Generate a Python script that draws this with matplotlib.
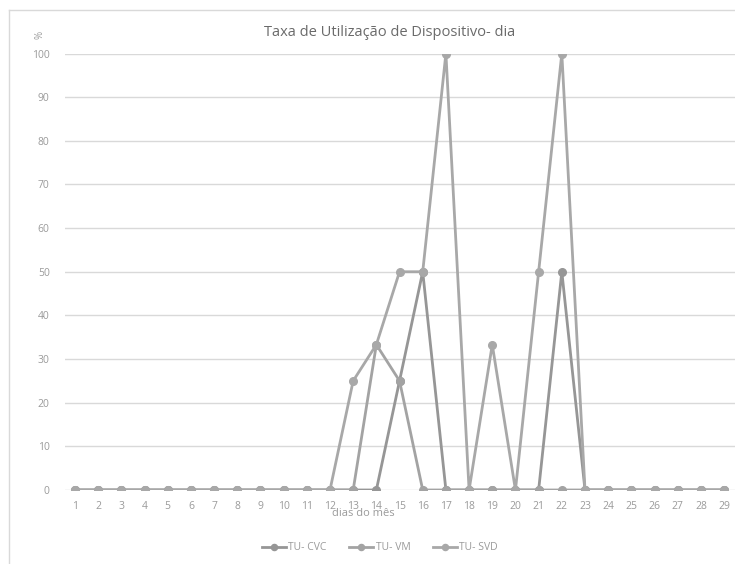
"""Taxa de Utilização de Dispositivo por dia do mês (linhas com marcadores)."""

import matplotlib
matplotlib.use("Agg")
import matplotlib.pyplot as plt
from matplotlib.lines import Line2D

FONT = "Open Sans"
GRID = "#d9d9d9"
TEXT = "#9a9a9a"

days = list(range(1, 30))

tu_cvc = [0, 0, 0, 0, 0, 0, 0, 0, 0, 0, 0, 0, 0, 0, 25, 50, 0, 0, 0, 0,
          0, 50, 0, 0, 0, 0, 0, 0, 0]
tu_vm = [0, 0, 0, 0, 0, 0, 0, 0, 0, 0, 0, 0, 0, 33.3, 25, 0, 0, 0, 0, 0,
         0, 0, 0, 0, 0, 0, 0, 0, 0]
tu_svd = [0, 0, 0, 0, 0, 0, 0, 0, 0, 0, 0, 0, 25, 33.3, 50, 50, 100, 0, 33.3, 0,
          50, 100, 0, 0, 0, 0, 0, 0, 0]

series = [
    ("TU- CVC", tu_cvc, "#969696"),
    ("TU- VM", tu_vm, "#a3a3a3"),
    ("TU- SVD", tu_svd, "#a8a8a8"),
]

W, H = 735, 564
fig = plt.figure(figsize=(W / 100, H / 100), dpi=100)
fig.patch.set_facecolor("white")

# chart frame (top and left edges)
fig.add_artist(Line2D([9 / W, 1], [1 - 10 / H, 1 - 10 / H], color=GRID, lw=1))
fig.add_artist(Line2D([9 / W, 9 / W], [0, 1 - 10 / H], color=GRID, lw=1))

ax = fig.add_axes([65 / W, 1 - 490 / H, (735 - 65) / W, (490 - 53.5) / H])

for name, vals, color in series:
    ax.plot(days, vals, color=color, lw=2, marker="o", ms=5.5,
            markerfacecolor=color, markeredgecolor=color, label=name,
            solid_joinstyle="round", zorder=3)

ax.set_xlim(0.57, 29.47)
ax.set_ylim(0, 100)
ax.set_xticks(days)
ax.set_yticks(range(0, 101, 10))
ax.grid(axis="y", color=GRID, lw=1, zorder=0)
for side in ["top", "right", "left", "bottom"]:
    ax.spines[side].set_visible(False)
ax.tick_params(length=0, labelsize=7.5, labelcolor=TEXT)
ax.tick_params(axis="y", pad=11)
ax.tick_params(axis="x", pad=8)
for lbl in ax.get_xticklabels() + ax.get_yticklabels():
    lbl.set_fontfamily(FONT)

fig.text(363 / W, 1 - 513 / H, "dias do mês", ha="center", va="center",
         fontsize=8, color=TEXT, family=FONT)
fig.text(40 / W, 1 - 35 / H, "%", ha="center", va="center", rotation=90,
         fontsize=7, color=TEXT, family=FONT)
fig.text(390 / W, 1 - 33 / H, "Taxa de Utilização de Dispositivo- dia",
         ha="center", va="center", fontsize=10.5, color="#6a6a6a", family=FONT)

leg = fig.legend(loc="center", bbox_to_anchor=(380 / W, 1 - 548 / H), ncol=3,
                 frameon=False, handlelength=2.3, handletextpad=0.2,
                 columnspacing=2.2, markerscale=0.8,
                 prop={"family": FONT, "size": 7.5})
for t in leg.get_texts():
    t.set_color(TEXT)

fig.savefig("out.png", dpi=100)
